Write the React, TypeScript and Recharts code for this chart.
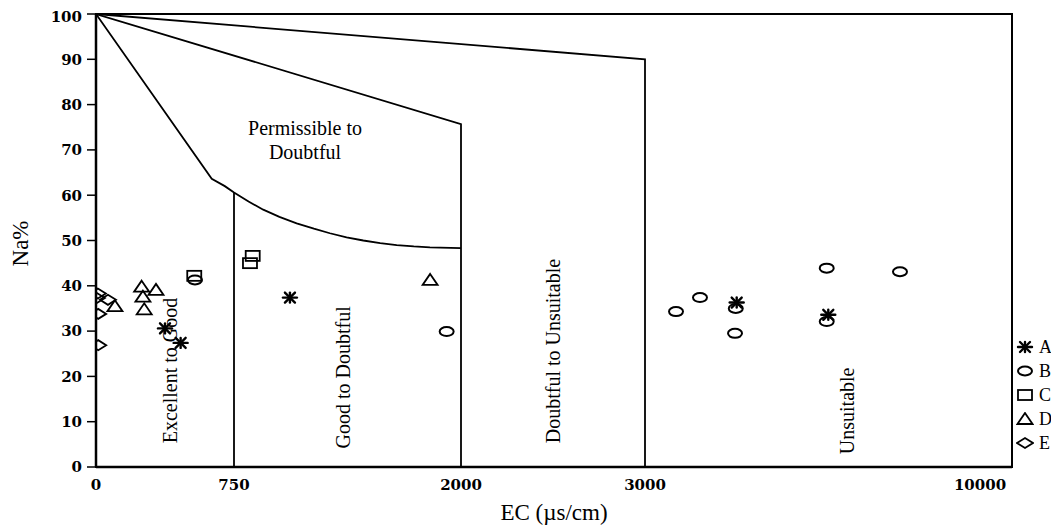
import React from "react";
import {
  ScatterChart,
  Scatter,
  XAxis,
  YAxis,
  ReferenceArea,
  ReferenceDot,
  Legend,
} from "recharts";

// EC axis is piecewise (not linear): tick values and where they sit on the axis
const tickEC = [0, 750, 2000, 3000, 10000];
const tickLabels = ["0", "750", "2000", "3000", "10000"];
const tickStops = [0, 138, 365, 549, 884];
const axisEnd = 916;
const naTicks = [0, 10, 20, 30, 40, 50, 60, 70, 80, 90, 100];

// samples (EC in µs/cm, Na in %)
const ecA = [375, 460, 1058, 4916, 6830];
const naA = [30.6, 27.4, 37.4, 36.3, 33.6];
const ecB = [538, 1921, 3648, 4149, 4897, 4881, 6797, 6797, 8328];
const naB = [41.3, 29.9, 34.3, 37.4, 35.0, 29.5, 43.9, 32.1, 43.1];
const ecC = [534, 853, 838];
const naC = [42.2, 46.6, 45.0];
const ecD = [103, 248, 326, 255, 262, 1830];
const naD = [35.5, 39.8, 39.1, 37.6, 34.8, 41.3];
const ecE = [10, 5, 65, 12, 12];
const naE = [38.3, 37.3, 36.9, 33.8, 26.9];

// Wilcox class boundaries
const edgeTopEC = [0, 3000, 3000];
const edgeTopNa = [100, 90, 0];
const edgeMidEC = [0, 2000, 2000];
const edgeMidNa = [100, 75.7, 0];
const edgeLowEC = [0, 629, 700, 750, 830, 911, 1000, 1095, 1190, 1278, 1370, 1462, 1555, 1646, 1740, 1829, 2000];
const edgeLowNa = [100, 63.6, 62.0, 60.6, 58.6, 56.8, 55.2, 53.8, 52.6, 51.6, 50.7, 50.0, 49.4, 49.0, 48.7, 48.5, 48.3];
const edge750EC = [750, 750];
const edge750Na = [60.6, 0];

const ecToAxis = (ec: number) => {
  for (let i = 1; i < tickEC.length; i++) {
    if (ec <= tickEC[i]) {
      const t = (ec - tickEC[i - 1]) / (tickEC[i] - tickEC[i - 1]);
      return tickStops[i - 1] + t * (tickStops[i] - tickStops[i - 1]);
    }
  }
  return tickStops[tickStops.length - 1];
};

const toPoints = (ec: number[], na: number[]) =>
  ec.map((v, i) => ({ x: ecToAxis(v), y: na[i] }));

const serif = "'Liberation Serif', 'Times New Roman', serif";
const INK = "#000";

const Asterisk = ({ cx, cy }: any) => (
  <g stroke={INK} strokeWidth={2.4} strokeLinecap="round">
    <line x1={cx - 7} y1={cy} x2={cx + 7} y2={cy} />
    <line x1={cx - 5} y1={cy - 5} x2={cx + 5} y2={cy + 5} />
    <line x1={cx - 5} y1={cy + 5} x2={cx + 5} y2={cy - 5} />
    <line x1={cx} y1={cy - 5} x2={cx} y2={cy + 5} />
  </g>
);
const Ellipse = ({ cx, cy }: any) => (
  <ellipse cx={cx} cy={cy} rx={7} ry={4.5} fill="none" stroke={INK} strokeWidth={2} />
);
const Square = ({ cx, cy }: any) => (
  <rect x={cx - 7} y={cy - 5} width={14} height={10} fill="none" stroke={INK} strokeWidth={1.8} />
);
const Triangle = ({ cx, cy }: any) => (
  <path
    d={`M${cx},${cy - 6} L${cx + 7.5},${cy + 5} L${cx - 7.5},${cy + 5} Z`}
    fill="none"
    stroke={INK}
    strokeWidth={1.8}
  />
);
const Diamond = ({ cx, cy }: any) => (
  <path
    d={`M${cx - 8},${cy} L${cx},${cy - 5} L${cx + 8},${cy} L${cx},${cy + 5} Z`}
    fill="none"
    stroke={INK}
    strokeWidth={1.8}
  />
);
const NoMark = () => <g />;

const series = [
  { name: "A", data: toPoints(ecA, naA), Mark: Asterisk },
  { name: "B", data: toPoints(ecB, naB), Mark: Ellipse },
  { name: "C", data: toPoints(ecC, naC), Mark: Square },
  { name: "D", data: toPoints(ecD, naD), Mark: Triangle },
  { name: "E", data: toPoints(ecE, naE), Mark: Diamond },
];

const edges = [
  toPoints(edgeTopEC, edgeTopNa),
  toPoints(edgeMidEC, edgeMidNa),
  toPoints(edgeLowEC, edgeLowNa),
  toPoints(edge750EC, edge750Na),
];

const zoneLabels = [
  { text: "Excellent to Good", ec: 400, na: 21.3 },
  { text: "Good to Doubtful", ec: 1350, na: 19.8 },
  { text: "Doubtful to Unsuitable", ec: 2500, na: 25.6 },
  { text: "Unsuitable", ec: 7231, na: 12.4 },
];

const VerticalText = (text: string) => ({ cx, cy }: any) => (
  <text
    x={cx}
    y={cy}
    transform={`rotate(-90 ${cx} ${cy})`}
    textAnchor="middle"
    dominantBaseline="central"
    fontFamily={serif}
    fontSize={20}
    fill={INK}
  >
    {text}
  </text>
);

const PermissibleText = ({ cx, cy }: any) => (
  <text textAnchor="middle" fontFamily={serif} fontSize={20} fill={INK}>
    <tspan x={cx} y={cy - 5}>Permissible to</tspan>
    <tspan x={cx} y={cy + 19}>Doubtful</tspan>
  </text>
);

const LegendBox = () => (
  <div style={{ fontFamily: serif, fontSize: 18, color: INK }}>
    {series.map(({ name, Mark }) => (
      <div key={name} style={{ display: "flex", alignItems: "center", height: 24 }}>
        <svg width={18} height={14} style={{ marginRight: 5 }}>
          <Mark cx={9} cy={7} />
        </svg>
        <span>{name}</span>
      </div>
    ))}
  </div>
);

const yLabel = ({ viewBox }: any) => {
  const x = viewBox.x - 16;
  const y = viewBox.y + viewBox.height / 2 + 3;
  return (
    <text
      x={x}
      y={y}
      transform={`rotate(-90 ${x} ${y})`}
      textAnchor="middle"
      dominantBaseline="central"
      fontFamily={serif}
      fontSize={23}
      fill={INK}
    >
      Na%
    </text>
  );
};

const tickFont = {
  fill: INK,
  fontSize: 15,
  fontWeight: "bold",
  fontFamily: "'DejaVu Serif', serif",
};

export default function App() {
  return (
    <ScatterChart
      width={1051}
      height={521}
      margin={{ top: 6, right: 47, bottom: 0, left: 28 }}
    >
      <XAxis
        type="number"
        dataKey="x"
        domain={[0, axisEnd]}
        ticks={tickStops}
        tickFormatter={(v: number) => tickLabels[tickStops.indexOf(v)] ?? ""}
        tick={tickFont}
        tickLine={false}
        tickSize={0}
        tickMargin={12}
        axisLine={{ stroke: INK, strokeWidth: 2.5 }}
        height={62}
        allowDataOverflow
        label={{
          value: "EC (µs/cm)",
          position: "insideBottom",
          offset: 9,
          fontFamily: serif,
          fontSize: 23,
          fill: INK,
        }}
      />
      <YAxis
        type="number"
        dataKey="y"
        domain={[0, 100]}
        ticks={naTicks}
        tick={tickFont}
        tickSize={9}
        tickMargin={5}
        tickLine={{ stroke: INK, strokeWidth: 1.5 }}
        axisLine={{ stroke: INK, strokeWidth: 2.5 }}
        width={60}
        label={yLabel}
      />
      <ReferenceArea
        x1={0}
        x2={axisEnd}
        y1={0}
        y2={100}
        fill="none"
        stroke={INK}
        strokeWidth={2}
      />
      {edges.map((pts, i) => (
        <Scatter
          key={`edge-${i}`}
          data={pts}
          line={{ stroke: INK, strokeWidth: 1.8 }}
          lineType="joint"
          shape={NoMark}
          legendType="none"
          isAnimationActive={false}
        />
      ))}
      {zoneLabels.map((z) => (
        <ReferenceDot
          key={z.text}
          x={ecToAxis(z.ec)}
          y={z.na}
          r={0}
          shape={VerticalText(z.text)}
        />
      ))}
      <ReferenceDot x={ecToAxis(1141)} y={72.2} r={0} shape={PermissibleText} />
      {series.map(({ name, data, Mark }) => (
        <Scatter
          key={name}
          name={name}
          data={data}
          shape={Mark}
          isAnimationActive={false}
        />
      ))}
      <Legend
        layout="horizontal"
        verticalAlign="middle"
        align="center"
        content={LegendBox}
        wrapperStyle={{ left: 1008, top: 327, width: 42, height: 130 }}
      />
    </ScatterChart>
  );
}
